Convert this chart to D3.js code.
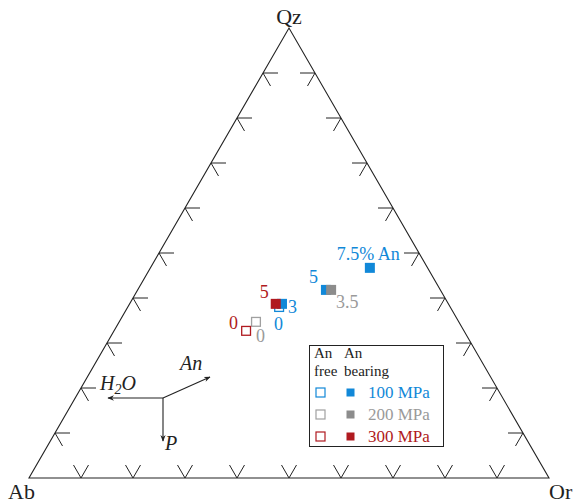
<!DOCTYPE html>
<html>
<head>
<meta charset="utf-8">
<script src="https://cdn.jsdelivr.net/npm/d3@7"></script>
<style>
  html, body { margin: 0; padding: 0; background: #fff; }
  svg { display: block; }
  text { font-family: "Liberation Serif", "Times New Roman", serif; }
</style>
</head>
<body>
<svg id="chart" width="576" height="504"></svg>
<script>
// ---- data (ternary compositions in wt%, Qz + Ab + Or = 100) ----
const pressures = [100, 100, 100, 100, 200, 200, 300, 300];
const anContent = [0, 3, 5, 7.5, 0, 3.5, 0, 5];
const qzValues  = [38.0, 38.7, 41.8, 46.7, 34.7, 41.8, 32.7, 38.7];
const abValues  = [32.9, 32.0, 22.0, 11.1, 39.0, 21.0, 41.9, 33.2];
const orValues  = [29.1, 29.3, 36.2, 42.2, 26.3, 37.2, 25.4, 28.1];
const pointLabels = ["0", "3", "5", "7.5% An", "0", "3.5", "0", "5"];
const legendPressures = [100, 200, 300];
const legendLabels = ["100 MPa", "200 MPa", "300 MPa"];
const tickValues = [0.1, 0.2, 0.3, 0.4, 0.5, 0.6, 0.7, 0.8, 0.9];
const vertexLabels = ["Qz", "Ab", "Or"];

// ---- styling / layout ----
const colors = { 100: "#1188d8", 200: "#8c8c8c", 300: "#b01a20" };
const openColors = { 100: "#1188d8", 200: "#a0a0a0", 300: "#b01a20" };
const textColors = { 100: "#1188d8", 200: "#9a9a9a", 300: "#b01a20" };
// label offsets relative to point centre: [dx, dy, anchor]
const labelLayout = [
  [-0.5, 23, "middle"], [6, 9, "start"], [-8, -7, "end"], [-1.5, -8, "middle"],
  [0, 20, "start"], [5, 18, "start"], [-8, -2, "end"], [-7, -6, "end"]
];

const svg = d3.select("#chart");
const ink = "#222";

// scales: horizontal position parameter (Or + Qz/2) and Qz height
const xs = d3.scaleLinear().domain([0, 1]).range([29, 549]);
const ys = d3.scaleLinear().domain([0, 1]).range([478, 28]);
function proj(qz, ab, or) {
  const s = qz + ab + or;
  const q = qz / s, o = or / s;
  return [xs(o + q / 2), ys(q)];
}

// triangle
const A = proj(0, 1, 0), B = proj(0, 0, 1), C = proj(1, 0, 0);
svg.append("path")
  .attr("d", d3.line()([A, B, C, A]) + "Z")
  .attr("fill", "none").attr("stroke", ink).attr("stroke-width", 1.1);

// ticks
const L = 15;
const c60 = 0.5, s60 = Math.sqrt(3) / 2;
const tickG = svg.append("g").attr("stroke", ink).attr("stroke-width", 1).attr("fill", "none");
tickValues.forEach(t => {
  // bottom edge (Qz = 0)
  let p = proj(0, 1 - t, t);
  tickG.append("path").attr("d", d3.line()([[p[0] - c60 * L, p[1] - s60 * L], p, [p[0] + c60 * L, p[1] - s60 * L]]));
  // left edge (Or = 0)
  p = proj(t, 1 - t, 0);
  tickG.append("path").attr("d", d3.line()([[p[0] + L, p[1]], p, [p[0] + c60 * L, p[1] + s60 * L]]));
  // right edge (Ab = 0)
  p = proj(t, 0, 1 - t);
  tickG.append("path").attr("d", d3.line()([[p[0] - L, p[1]], p, [p[0] - c60 * L, p[1] + s60 * L]]));
});

// vertex labels
svg.append("text").attr("x", C[0]).attr("y", 24).attr("text-anchor", "middle")
  .attr("font-size", 22).attr("fill", ink).text(vertexLabels[0]);
svg.append("text").attr("x", 8).attr("y", 499).attr("font-size", 22).attr("fill", ink).text(vertexLabels[1]);
svg.append("text").attr("x", 549).attr("y", 499).attr("font-size", 22).attr("fill", ink).text(vertexLabels[2]);

// data points
const pts = pressures.map((p, i) => ({
  p, an: anContent[i], label: pointLabels[i], lay: labelLayout[i],
  xy: proj(qzValues[i], abValues[i], orValues[i])
}));
const S = 10;
const openPts = pts.filter(d => d.an === 0);
const filledOrder = [3, 2, 1, 5, 7].map(i => pts[i]);
svg.append("g").selectAll("rect").data(openPts).join("rect")
  .attr("x", d => d.xy[0] - S / 2 + 0.6).attr("y", d => d.xy[1] - S / 2 + 0.6)
  .attr("width", S - 1.2).attr("height", S - 1.2)
  .attr("fill", "#fff").attr("stroke", d => openColors[d.p]).attr("stroke-width", 1.3);
svg.append("g").selectAll("rect").data(filledOrder).join("rect")
  .attr("x", d => d.xy[0] - S / 2).attr("y", d => d.xy[1] - S / 2)
  .attr("width", S).attr("height", S)
  .attr("fill", d => colors[d.p]);
svg.append("g").selectAll("text").data(pts).join("text")
  .attr("x", d => d.xy[0] + d.lay[0]).attr("y", d => d.xy[1] + d.lay[1])
  .attr("text-anchor", d => d.lay[2])
  .attr("font-size", 18).attr("fill", d => textColors[d.p])
  .text(d => d.label);

// legend
const lg = svg.append("g");
lg.append("rect").attr("x", 309.5).attr("y", 345.5).attr("width", 134).attr("height", 101)
  .attr("fill", "#fff").attr("stroke", ink).attr("stroke-width", 1);
lg.append("text").attr("x", 314).attr("y", 358).attr("font-size", 15).attr("fill", ink).text("An");
lg.append("text").attr("x", 344).attr("y", 358).attr("font-size", 15).attr("fill", ink).text("An");
lg.append("text").attr("x", 314).attr("y", 376).attr("font-size", 15).attr("fill", ink).text("free");
lg.append("text").attr("x", 344).attr("y", 376).attr("font-size", 15).attr("fill", ink).text("bearing");
legendPressures.forEach((p, i) => {
  const cy = 392.5 + i * 22;
  lg.append("rect").attr("x", 316).attr("y", cy - 4.5).attr("width", 9).attr("height", 9)
    .attr("fill", "#fff").attr("stroke", openColors[p]).attr("stroke-width", 1.2);
  lg.append("rect").attr("x", 346.5).attr("y", cy - 4).attr("width", 8).attr("height", 8)
    .attr("fill", colors[p]);
  lg.append("text").attr("x", 368).attr("y", cy + 5).attr("font-size", 17)
    .attr("fill", textColors[p]).text(legendLabels[i]);
});

// process vectors
const defs = svg.append("defs");
defs.append("marker").attr("id", "ah").attr("viewBox", "0 0 10 10")
  .attr("refX", 9).attr("refY", 5).attr("markerWidth", 6).attr("markerHeight", 6)
  .attr("orient", "auto-start-reverse")
  .append("path").attr("d", "M0,1 L10,5 L0,9 L3,5 Z").attr("fill", ink);
const o = [163, 398];
const arrows = [[108, 398], [163, 441], [210, 377]];
svg.append("g").selectAll("line").data(arrows).join("line")
  .attr("x1", o[0]).attr("y1", o[1]).attr("x2", d => d[0]).attr("y2", d => d[1])
  .attr("stroke", ink).attr("stroke-width", 1.1).attr("marker-end", "url(#ah)");
const h2o = svg.append("text").attr("x", 100).attr("y", 390).attr("font-size", 20)
  .attr("font-style", "italic").attr("fill", ink);
h2o.append("tspan").text("H");
h2o.append("tspan").attr("font-size", 14).attr("dy", 4).text("2");
h2o.append("tspan").attr("dy", -4).text("O");
svg.append("text").attr("x", 180).attr("y", 370).attr("font-size", 20)
  .attr("font-style", "italic").attr("fill", ink).text("An");
svg.append("text").attr("x", 165).attr("y", 450).attr("font-size", 20)
  .attr("font-style", "italic").attr("fill", ink).text("P");
</script>
</body>
</html>
